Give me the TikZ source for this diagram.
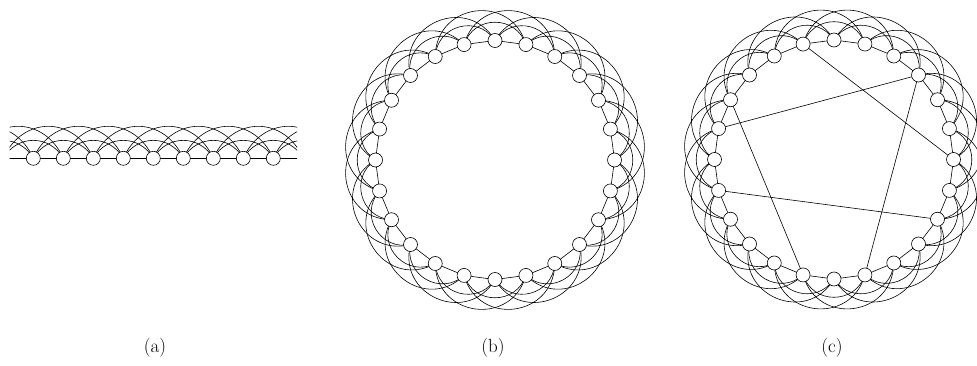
\documentclass[tikz,border=0pt]{standalone}
\usetikzlibrary{backgrounds}
\begin{document}
\begin{tikzpicture}[x=1pt,y=1pt,
  vertex/.style={circle,draw,fill=white,minimum size=14pt,inner sep=0pt,line width=0.6pt},
  link/.style={line width=0.6pt},
  lbl/.style={font=\fontsize{19}{22}\selectfont}]
\useasboundingbox (0,0) rectangle (977,365);
% ---------- (a) ----------
\foreach \k in {-3,...,11} \coordinate (pa\k) at ({33.3+30*\k},206.7);
\foreach \k in {0,...,8} \node[vertex] (a\k) at (pa\k) {};
\coordinate (aL) at (-100,206.7);
\coordinate (aR) at (400,206.7);
\begin{scope}[on background layer]
\begin{scope}
\clip (9.5,150) rectangle (297,260);
\draw[link] (aL) -- (aR);
\foreach \k in {-3,...,9} {
  \pgfmathtruncatemacro\j{\k+2}
  \draw[link] (pa\k) to[out=60,in=120,looseness=1.18] (pa\j);
}
\foreach \k in {-3,...,8} {
  \pgfmathtruncatemacro\j{\k+3}
  \draw[link] (pa\k) to[out=66,in=114,looseness=1.33] (pa\j);
}
\end{scope}
\end{scope}
% ---------- (b) ----------
\foreach \k in {0,...,23} \node[vertex] (b\k) at ({495+119.5*cos(90-15*\k)},{205+119.5*sin(90-15*\k)}) {};
\begin{scope}[on background layer]
\foreach \k in {0,...,23} {
  \pgfmathtruncatemacro\ja{mod(\k+1,24)}
  \pgfmathtruncatemacro\jb{mod(\k+2,24)}
  \pgfmathtruncatemacro\jc{mod(\k+3,24)}
  \pgfmathsetmacro\ob{90-15*\k-105+72}
  \pgfmathsetmacro\ib{90-15*\k+75-72}
  \pgfmathsetmacro\oc{90-15*\k-112.5+82}
  \pgfmathsetmacro\ic{90-15*\k+67.5-82}
  \draw[link] (b\k.center) -- (b\ja.center);
  \draw[link] (b\k.center) to[out=\ob,in=\ib,looseness=1.30] (b\jb.center);
  \draw[link] (b\k.center) to[out=\oc,in=\ic,looseness=1.50] (b\jc.center);
}
\end{scope}
% ---------- (c) ----------
\foreach \k in {0,...,23} \node[vertex] (c\k) at ({834+119.5*cos(90-15*\k)},{205.5+119.5*sin(90-15*\k)}) {};
\begin{scope}[on background layer]
\foreach \k in {0,...,23} {
  \pgfmathtruncatemacro\ja{mod(\k+1,24)}
  \pgfmathtruncatemacro\jb{mod(\k+2,24)}
  \pgfmathtruncatemacro\jc{mod(\k+3,24)}
  \pgfmathsetmacro\ob{90-15*\k-105+72}
  \pgfmathsetmacro\ib{90-15*\k+75-72}
  \pgfmathsetmacro\oc{90-15*\k-112.5+82}
  \pgfmathsetmacro\ic{90-15*\k+67.5-82}
  \draw[link] (c\k.center) -- (c\ja.center);
  \draw[link] (c\k.center) to[out=\ob,in=\ib,looseness=1.30] (c\jb.center);
  \draw[link] (c\k.center) to[out=\oc,in=\ic,looseness=1.50] (c\jc.center);
}
\draw[link] (c23.center) -- (c6.center);
\draw[link] (c3.center) -- (c19.center);
\draw[link] (c20.center) -- (c13.center);
\draw[link] (c3.center) -- (c11.center);
\draw[link] (c17.center) -- (c8.center);
\end{scope}
% ---------- labels ----------
\node[lbl] (la) at (155,17) {(a)};
\node[lbl] (lb) at (493,17) {(b)};
\node[lbl] (lc) at (832,17) {(c)};
\end{tikzpicture}
\end{document}
